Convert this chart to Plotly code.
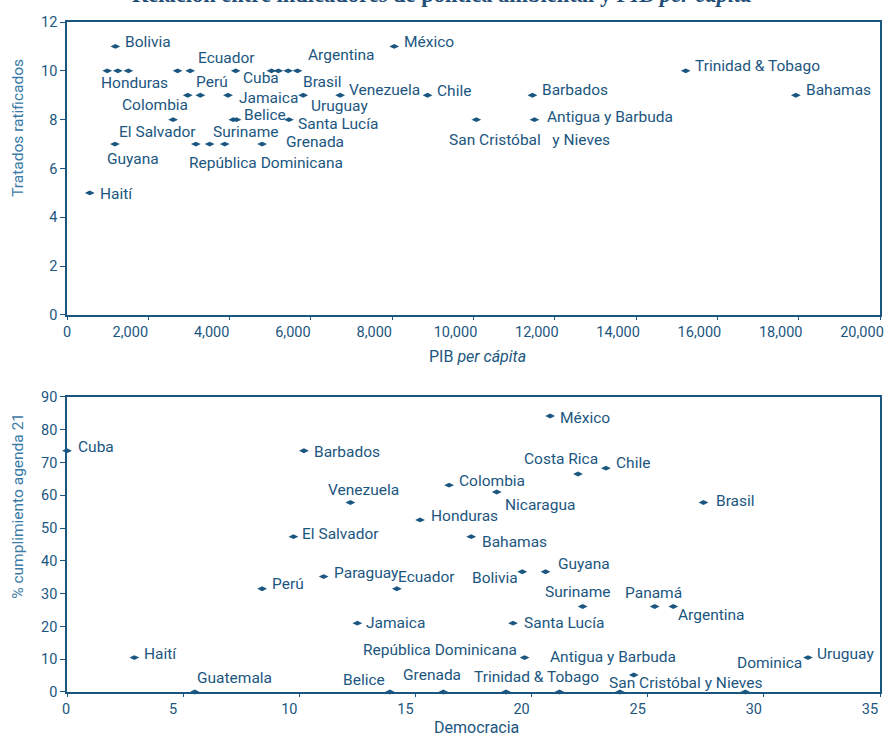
import plotly.graph_objects as go

# ---------------- data: top chart (PIB per cápita vs tratados ratificados) ----------------
pib = [1190, 8050, 990, 1250, 1510, 2720, 3030, 4150, 5030, 5200, 5440, 5670, 15220,
       2970, 3280, 3960, 5810, 6720, 8870, 11450, 17930,
       2610, 4090, 4170, 5460, 10070, 11500,
       1180, 3170, 3510, 3880, 4800,
       560]
tratados = [11, 11, 10, 10, 10, 10, 10, 10, 10, 10, 10, 10, 10,
            9, 9, 9, 9, 9, 9, 9, 9,
            8, 8, 8, 8, 8, 8,
            7, 7, 7, 7, 7,
            5]
etiquetas_top = ["Bolivia", "México", "", "Honduras", "", "", "Ecuador", "Cuba", "", "", "Argentina", "Brasil", "Trinidad & Tobago",
                 "Colombia", "Perú", "Jamaica", "Uruguay", "Venezuela", "Chile", "Barbados", "Bahamas",
                 "El Salvador", "", "Belice", "Santa Lucía", "San Cristóbal\u00a0\u00a0 y Nieves", "Antigua y Barbuda",
                 "Guyana", "", "República Dominicana", "Suriname", "Grenada",
                 "Haití"]

# ---------------- data: bottom chart (Democracia vs % cumplimiento agenda 21) ----------------
democracia = [0, 10.2, 12.2, 15.2, 9.75, 20.8, 22.0, 23.2, 16.45, 18.5, 17.4, 27.4,
              8.4, 11.05, 14.2, 12.5, 2.9, 5.5, 13.9, 16.2,
              19.6, 20.6, 22.2, 25.3, 26.1, 19.2, 19.7, 31.9, 24.4,
              18.9, 21.2, 23.8, 29.2]
agenda21 = [73.6, 73.6, 57.8, 52.5, 47.4, 84.2, 66.5, 68.3, 63.1, 61.0, 47.4, 57.8,
            31.5, 35.2, 31.5, 21.0, 10.5, 0, 0, 0,
            36.7, 36.7, 26.1, 26.1, 26.1, 21.0, 10.5, 10.5, 5.2,
            0, 0, 0, 0]
etiquetas_bot = ["Cuba", "Barbados", "Venezuela", "Honduras", "El Salvador", "México", "Costa Rica", "Chile",
                 "Colombia", "Nicaragua", "Bahamas", "Brasil",
                 "Perú", "Paraguay", "Ecuador", "Jamaica", "Haití", "Guatemala", "Belice", "Grenada",
                 "Bolivia", "Guyana", "Suriname", "Panamá", "Argentina", "Santa Lucía", "República Dominicana",
                 "Uruguay", "Antigua y Barbuda",
                 "Trinidad & Tobago", "", "San Cristóbal y Nieves", "Dominica"]

x_ticks_top = [0, 2000, 4000, 6000, 8000, 10000, 12000, 14000, 16000, 18000, 20000]
y_ticks_top = [0, 2, 4, 6, 8, 10, 12]
x_ticks_bot = [0, 5, 10, 15, 20, 25, 30, 35]
y_ticks_bot = [0, 10, 20, 30, 40, 50, 60, 70, 80, 90]

# ---------------- label placement (pixel offsets: anchor, dx, dy) ----------------
pos_top = [("l", 8, -4), ("l", 8, -4), None, ("c", 17, 12), None, None, ("l", 6, -13), ("l", 5, 7), None, None,
           ("l", 18, -16), ("l", 4, 11), ("l", 7, -5),
           ("r", 2, 10), ("l", -6, -13), ("l", 9, 3), ("l", 6, 11), ("l", 7, -5), ("l", 7, -4), ("l", 8, -5), ("l", 8, -5),
           ("c", -16, 12), None, ("l", 5, -5), ("l", 7, 4), ("l", -29, 20), ("l", 11, -3),
           ("c", 18, 15), None, ("c", 56, 19), ("l", -14, -12), ("l", 22, -2),
           ("l", 8, 1)]
pos_bot = [("l", 9, -4), ("l", 8, 1), ("c", 13, -13), ("l", 9, -4), ("l", 7, -3), ("l", 8, 2), ("r", 22, -15), ("l", 8, -5),
           ("l", 8, -4), ("l", 6, 13), ("l", 9, 5), ("l", 11, -2),
           ("l", 8, -5), ("l", 8, -4), ("l", -1, -12), ("l", 7, 0), ("l", 8, -4), ("l", 0, -14), ("r", -3, -12), ("c", -11, -17),
           ("r", -2, 6), ("l", 10, -8), ("c", -5, -14), ("c", -1, -13), ("l", 3, 9), ("l", 9, 0), ("r", -6, -8),
           ("l", 7, -4), ("c", -21, -18),
           ("c", 30, -15), None, ("l", -13, -9), ("l", -10, -29)]

C_TEXT = "#1b5680"
C_TITLE_Y = "#3a7aa6"
FONT = "Roboto, Liberation Sans, sans-serif"
LBL_SIZE = 15.5

fig = go.Figure()
marker = dict(symbol="diamond-wide", size=7, color=C_TEXT)
fig.add_trace(go.Scatter(x=pib, y=tratados, mode="markers", marker=marker, cliponaxis=False,
                         xaxis="x", yaxis="y", showlegend=False, text=etiquetas_top))
fig.add_trace(go.Scatter(x=democracia, y=agenda21, mode="markers", marker=marker, cliponaxis=False,
                         xaxis="x2", yaxis="y2", showlegend=False, text=etiquetas_bot))

anchors = {"l": "left", "r": "right", "c": "center"}
annotations = []


def add_labels(xs, ys, labels, positions, xref, yref):
    for xv, yv, lab, p in zip(xs, ys, labels, positions):
        if not lab or p is None:
            continue
        a, dx, dy = p
        annotations.append(dict(x=xv, y=yv, xref=xref, yref=yref, text=lab, showarrow=False,
                                xanchor=anchors[a], yanchor="middle", xshift=dx, yshift=-dy,
                                font=dict(family=FONT, size=LBL_SIZE, color=C_TEXT)))


add_labels(pib, tratados, etiquetas_top, pos_top, "x", "y")
add_labels(democracia, agenda21, etiquetas_bot, pos_bot, "x2", "y2")

# axis titles and headline
annotations += [
    dict(text="Tratados ratificados", x=0, y=0.842, xref="paper", yref="paper", xshift=-49, textangle=-90,
         showarrow=False, xanchor="center", yanchor="middle", font=dict(family=FONT, size=15.5, color=C_TITLE_Y)),
    dict(text="% cumplimiento agenda 21", x=0, y=0.278, xref="paper", yref="paper", xshift=-49, textangle=-90,
         showarrow=False, xanchor="center", yanchor="middle", font=dict(family=FONT, size=15.5, color=C_TITLE_Y)),
    dict(text="PIB <i>per cápita</i>", x=0.505, y=0.5004, xref="paper", yref="paper",
         showarrow=False, xanchor="center", yanchor="middle", font=dict(family=FONT, size=16, color=C_TEXT)),
    dict(text="Democracia", x=0.504, y=-0.0527, xref="paper", yref="paper",
         showarrow=False, xanchor="center", yanchor="middle", font=dict(family=FONT, size=16, color=C_TEXT)),
    dict(text="<b>Relación entre indicadores de política ambiental y <i>PIB per cápita</i></b>",
         x=0.4608, y=1, xref="paper", yref="paper", yshift=13, showarrow=False,
         xanchor="center", yanchor="bottom",
         font=dict(family="Liberation Serif, Times New Roman, serif", size=22.5, color="#1f4e79")),
]

axis_common = dict(showgrid=False, zeroline=False, showline=True, linecolor=C_TEXT, linewidth=1.5,
                   mirror=True, ticks="outside", tickcolor=C_TEXT, tickwidth=1,
                   tickfont=dict(family=FONT, size=14.5, color=C_TEXT))

fmt_top = ["\u00a0" * 10 + "0"] + [f"{v:,}" for v in x_ticks_top[1:]]
fmt_bot = ["\u00a0" * 5 + "0"] + [str(v) for v in x_ticks_bot[1:]]

fig.update_layout(
    width=887, height=735,
    margin=dict(l=67, r=3, t=22, b=43),
    paper_bgcolor="white", plot_bgcolor="white",
    annotations=annotations,
    xaxis=dict(axis_common, domain=[0, 1], anchor="y", range=[0, 20000], tickvals=x_ticks_top,
               ticktext=fmt_top, ticklen=3, ticklabelshift=-18),
    yaxis=dict(axis_common, domain=[0.5627, 1], anchor="x", range=[0, 12], tickvals=y_ticks_top, ticklen=5),
    xaxis2=dict(axis_common, domain=[0, 1], anchor="y2", range=[0, 35], tickvals=x_ticks_bot,
                ticktext=fmt_bot, ticklen=3, ticklabelshift=-10),
    yaxis2=dict(axis_common, domain=[0, 0.4403], anchor="x2", range=[0, 90], tickvals=y_ticks_bot, ticklen=5),
)

fig.write_html("out.html", config={"displayModeBar": False},
               post_script="document.body.style.margin='0';document.body.style.overflow='hidden';")
